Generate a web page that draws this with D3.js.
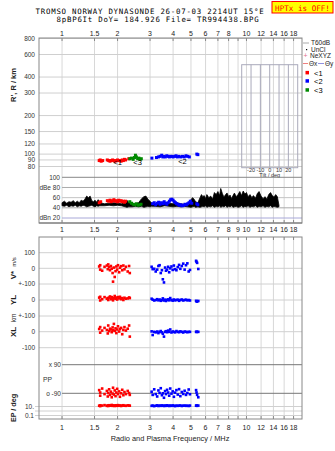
<!DOCTYPE html>
<html><head><meta charset="utf-8">
<script src="https://cdn.jsdelivr.net/npm/d3@7"></script>
<style>
body{margin:0;background:#fff}
svg{display:block}
text{font-family:"Liberation Sans",Arial,sans-serif;fill:#222}
.mono{font-family:"DejaVu Sans Mono","Liberation Mono",monospace}
</style>
</head><body>
<svg id="c" width="335" height="451"></svg>
<script>
// ---------------- DATA ----------------
const freqTicks = [1,1.5,2,3,4,5,6,7,8,10,12,14,16,18];
const freqTicksMid = [1,1.5,2,3,4,5,6,7,8,9,10,12,14,16,18];
const gridFreqs = [1,1.5,2,3,4,5,6,7,8,9,10,12,14,16,18];
const heightTicks = [80,90,100,120,150,200,300,400,600,800];
const ampTicks = [100,80,60,40,20];
const ampTickLabels = ["100","dBe 80","60","40","dBn 20"];
const tiltTicks = [-20,-10,0,10,20];

// virtual height traces (R' km)
const o1F = [1.59,1.61,1.63,1.66,1.76,1.79,1.82,1.85,1.88,1.91,1.94,1.97,2.00,2.03,2.06,2.09,2.12,2.15,2.18,2.21,2.30];
const o1H = [89,90,88,89,90,89,88,89,90,89,88,89,90,89,89,88,90,89,91,90,92];
const o3F = [2.33,2.38,2.43,2.47,2.50,2.53,2.57,2.61,2.65,2.69];
const o3H = [92,93,91,94,98,95,92,93,91,92];
const o2F = [3.07,3.25,3.33,3.40,3.47,3.52,3.58,3.63,3.70,3.76,3.82,3.88,3.94,4.00,4.08,4.15,4.22,4.30,4.40,4.50,4.60,4.70,4.80,4.90,5.38,5.45];
const o2H = [93,94,95,96,98,95,96,95,97,96,95,96,96,95,96,97,95,96,95,96,95,97,96,95,100,99];
const echoLabels = ["<1","<3","<2"];
const echoLabelF = [2.0,2.57,4.5];
const echoLabelH = [86,86,88.5];

// amplitude (dB) – black trace envelope
const ampF  = [1.00,1.03,1.06,1.09,1.12,1.15,1.18,1.21,1.24,1.27,1.30,1.33,1.36,1.39,1.42,1.45,1.48,1.51,1.54,1.57,1.60,1.70,1.80,1.90,2.00,2.10,2.20,2.25,2.30,2.40,2.50,2.60,2.70,2.78,2.85,2.92,3.00,3.05,3.20,3.40,3.60,3.80,4.00,4.20,4.40,4.60,4.80,5.00,5.10,5.20,5.30,5.45,5.60,5.70,5.80,5.90,6.00,6.10,6.25,6.40,6.55,6.70,6.85,7.00,7.15,7.25,7.40,7.55,7.70,7.85,8.00,8.15,8.30,8.45,8.60,8.80,9.00,9.20,9.40,9.60,9.80,10.0,10.2,10.45,10.7,10.9,11.2,11.45,11.7,12.0,12.3,12.6,12.9,13.2,13.5,13.8,14.1,14.4,14.7,15.0];
const ampLo = [44,43,45,42,44,43,45,42,44,43,45,44,42,43,44,45,43,42,44,43,44,44,45,44,45,44,42,41,42,42,43,42,43,41,42,43,42,43,43,42,44,43,42,43,42,43,42,41,42,43,41,42,41,42,43,42,44,41,43,42,44,41,43,42,44,41,43,42,44,41,43,42,44,41,42,43,41,42,44,41,43,42,44,41,43,42,44,41,43,42,44,41,43,42,44,41,43,42,41,42];
const ampHi = [50,53,49,52,51,54,50,53,50,55,53,57,63,60,63,54,52,55,51,56,50,48,49,50,49,48,52,55,50,47,48,50,58,62,63,57,53,50,48,49,50,49,48,50,48,47,49,56,60,57,52,50,60,66,62,64,58,66,60,63,57,70,66,72,64,78,68,61,66,69,62,65,58,64,69,62,66,72,64,73,67,70,62,66,60,64,59,68,72,63,58,62,57,66,70,64,61,66,62,45];

// amplitude of identified echoes
const ampRedF = [1.59,1.62,1.76,1.79,1.82,1.85,1.88,1.91,1.94,1.97,2.00,2.03,2.06,2.09,2.12,2.15,2.18,2.21];
const ampRedA = [50,52,54,53,55,52,54,56,53,54,52,55,53,54,52,53,51,53];
const ampGreenF = [2.33,2.38,2.43,2.48,2.53,2.58,2.63,2.68];
const ampGreenA = [52,49,47,46,48,45,46,47];
const ampBlueF = [3.10,3.16,3.22,3.28,3.34,3.40,3.46,3.52,3.58,3.64,3.70,3.76,3.82,3.88,3.94,4.00,4.06,4.12,4.18,4.25,4.32,4.40,4.48,4.56,4.64,4.72,4.80,4.88,4.96,5.05,5.38,5.45];
const ampBlueA = [48,50,46,49,51,47,50,48,52,49,47,50,53,56,57,55,52,50,48,47,45,46,44,45,47,46,48,50,53,49,48,46];

// lower panels: echo 1 (red)
const redF  = [1.59,1.61,1.61,1.65,1.70,1.75,1.77,1.78,1.80,1.82,1.84,1.86,1.88,1.89,1.91,1.93,1.95,1.97,1.99,2.01,2.04,2.06,2.09,2.12,2.15,2.18,2.22,2.27,2.31,2.33];
const redV  = [12,-8,20,-15,10,18,-5,25,8,-12,15,-2,-30,-85,5,-55,-18,12,-8,20,-25,4,14,-12,18,-6,10,-20,15,-30];
const redYL = [15,-3,20,5,18,8,12,0,15,22,5,18,10,-2,12,25,8,15,3,18,10,20,5,12,0,14,8,10,16,12];
const redXL = [18,-5,30,8,25,12,-10,40,5,20,15,-2,28,10,50,6,22,-8,15,35,2,18,25,-15,12,30,8,20,40,-30];
const redPP = [-70,-105,-85,-60,-95,-75,-110,-88,-65,-100,-80,-115,-92,-55,-98,-72,-108,-85,-62,-95,-78,-112,-90,-68,-102,-82,-95,-75,-88,-100];
const redEP = [15,18,12,16,20,14,17,13,19,15,16,22,14,17,15,13,18,16,14,20,15,17,13,16,19,15,14,18,16,15];

// lower panels: echo 2 (blue)
const blueF  = [3.06,3.10,3.16,3.22,3.28,3.33,3.38,3.43,3.48,3.52,3.57,3.62,3.66,3.71,3.76,3.81,3.86,3.92,3.98,4.04,4.10,4.17,4.24,4.31,4.38,4.46,4.54,4.62,4.70,4.78,4.86,4.94,5.33,5.36,5.40,5.48];
const blueV  = [10,-5,-3,-20,-8,15,20,-30,-12,-70,-90,5,-15,-8,10,-25,0,12,-10,18,-5,-12,8,22,-3,15,30,-8,20,32,-20,-10,48,42,35,-4];
const blueYL = [8,2,-3,0,5,-2,3,-5,0,10,-3,2,-6,0,4,-2,12,0,-4,3,-2,0,2,-5,0,3,-3,0,2,-2,0,-3,-5,-8,-10,-6];
const blueXL = [3,-20,0,-3,2,-8,0,5,-3,-12,-30,0,4,-2,8,0,15,-4,2,0,-3,5,0,-2,3,0,-4,2,0,-2,0,0,0,0,0,0];
const bluePP = [-80,-100,-65,-95,-110,-72,-88,-58,-102,-90,-118,-76,-95,-68,-85,-105,-60,-92,-78,-112,-86,-70,-98,-64,-108,-82,-94,-74,-100,-88,-66,-96,-70,-85,-100,-115];
const blueEP = [14,16,12,15,18,13,16,14,17,15,13,16,14,18,15,13,16,14,17,15,12,16,14,15,17,13,15,16,14,15,13,16,15,17,14,16];

const lowerTickVals = [252.7,268.3,284,300,316,331.7,347.7];

// ---------------- DRAWING ----------------
const RED="#ff0000", BLUE="#0000ff", GREEN="#008a00";
const svg = d3.select("#c");
const X0=39, X1=302;
const x = d3.scaleLog().domain([0.75,20]).range([X0,X1]);
const yR = d3.scaleLog().domain([80,800]).range([166.5,38.5]);
const yA = d3.scaleLinear().domain([20,100]).range([218,177.3]);
const yV = d3.scaleLinear().domain([-100,100]).range([284,252.7]);
const yYL = d3.scaleLinear().domain([-100,100]).range([316,284]);
const yXL = d3.scaleLinear().domain([-100,100]).range([347.7,316]);
const yPP = d3.scaleLinear().domain([-90,90]).range([393.3,364.7]);
const yEP = d3.scaleLog().domain([0.1,10]).range([415.5,406.5]);
const tilt = d3.scaleLinear().domain([-30,30]).range([241.7,297.7]);
const fmt = d => String(d);

const T1=38, B1=223, T2=237, B2=419;

// header
svg.append("text").attr("class","mono").attr("x",150).attr("y",14).attr("text-anchor","middle")
  .attr("font-size",7.4).attr("letter-spacing",0.75).style("fill","#000").text("TROMSO NORWAY   DYNASONDE 26-07-03 2214UT 15°E");
svg.append("text").attr("class","mono").attr("x",158).attr("y",22.3).attr("text-anchor","middle")
  .attr("font-size",7.4).attr("letter-spacing",0.75).style("fill","#000").text("8pBP6It DoY= 184.926 File= TR994438.BPG");
svg.append("rect").attr("x",272).attr("y",1.5).attr("width",61).attr("height",11.5)
  .attr("fill","#ffff00").attr("stroke","#ff0000").attr("stroke-width",1);
svg.append("text").attr("class","mono").attr("x",302.5).attr("y",10.5).attr("text-anchor","middle")
  .attr("font-size",7.6).style("fill","#ff0000").text("HPTx is OFF!");

// vertical grid lines
const g = svg.append("g");
[[T1,B1],[T2,B2]].forEach(([a,b])=>{
  g.selectAll(null).data(gridFreqs).enter().append("line")
    .attr("x1",d=>x(d)).attr("x2",d=>x(d)).attr("y1",a).attr("y2",b)
    .attr("stroke","#d8d8d8").attr("stroke-width",1);
});

// top panel horizontal grid
g.selectAll(null).data(heightTicks).enter().append("line")
  .attr("x1",X0).attr("x2",X1).attr("y1",d=>yR(d)).attr("y2",d=>yR(d))
  .attr("stroke","#cfcfcf");
svg.selectAll(null).data(heightTicks).enter().append("text")
  .attr("x",35).attr("y",d=>yR(d)+2.3).attr("text-anchor","end").attr("font-size",6.5)
  .style("fill","#333").text(fmt);

// tilt box
svg.append("rect").attr("x",tilt(-30)).attr("y",64.7).attr("width",tilt(30)-tilt(-30)).attr("height",103)
  .attr("fill","none").attr("stroke","#aab").attr("stroke-width",1);
svg.selectAll(null).data(tiltTicks).enter().append("line")
  .attr("x1",d=>tilt(d)).attr("x2",d=>tilt(d)).attr("y1",64.7).attr("y2",167.7)
  .attr("stroke","#aab");
svg.selectAll(null).data(tiltTicks).enter().append("text")
  .attr("x",d=>tilt(d)).attr("y",172).attr("text-anchor","middle").attr("font-size",5.5)
  .style("fill","#333").text(fmt);
svg.append("text").attr("x",tilt(0)).attr("y",177).attr("text-anchor","middle").attr("font-size",5.5)
  .style("fill","#333").text("Tilt / deg");

// amplitude panel lines
const ampColors = ["#888","#aaa","#c4c4c4","#aaa","#a8a8d8"];
svg.selectAll(null).data(ampTicks).enter().append("line")
  .attr("x1",x(1)).attr("x2",X1).attr("y1",d=>yA(d)).attr("y2",d=>yA(d))
  .attr("stroke",(d,i)=>ampColors[i]);
svg.selectAll(null).data(ampTicks).enter().append("text")
  .attr("x",60).attr("y",d=>yA(d)+2.3).attr("text-anchor","end").attr("font-size",6.5)
  .style("fill","#333").text((d,i)=>ampTickLabels[i]);

// lower panel horizontal lines
svg.selectAll(null).data(lowerTickVals).enter().append("line")
  .attr("x1",X0).attr("x2",X1).attr("y1",d=>d).attr("y2",d=>d).attr("stroke","#d0d0d0");
svg.selectAll(null).data([90,-90]).enter().append("line")
  .attr("x1",x(1)).attr("x2",X1).attr("y1",d=>yPP(d)).attr("y2",d=>yPP(d)).attr("stroke","#777");
svg.selectAll(null).data([10,1,0.1]).enter().append("line")
  .attr("x1",X0-4).attr("x2",X1).attr("y1",d=>yEP(d)).attr("y2",d=>yEP(d)).attr("stroke","#d0d0d0");

// lower tick labels
const lowLab = [[yV(100),"100"],[yV(0),"0"],[yV(-100),"+-100"],[yYL(0),"0"],[yYL(-100),"+-100"],[yXL(0),"0"],[yXL(-100),"-100"]];
svg.selectAll(null).data(lowLab).enter().append("text")
  .attr("x",35).attr("y",d=>d[0]+2.3).attr("text-anchor","end").attr("font-size",6.5)
  .style("fill","#333").text(d=>d[1]);
svg.append("text").attr("x",61).attr("y",yPP(90)+2.3).attr("text-anchor","end").attr("font-size",6.5).style("fill","#333").text("x  90");
svg.append("text").attr("x",61).attr("y",yPP(-90)+2.3).attr("text-anchor","end").attr("font-size",6.5).style("fill","#333").text("o -90");
svg.append("text").attr("x",43).attr("y",yPP(0)+2.5).attr("font-size",6.8).style("fill","#333").text("PP");
svg.append("text").attr("x",34).attr("y",yEP(10)+2.3).attr("text-anchor","end").attr("font-size",6.5).style("fill","#333").text("10.");
svg.append("text").attr("x",34).attr("y",yEP(0.1)+2.3).attr("text-anchor","end").attr("font-size",6.5).style("fill","#333").text("0.1");

// frames
[[T1,B1],[T2,B2]].forEach(([a,b])=>{
  svg.append("rect").attr("x",X0).attr("y",a).attr("width",X1-X0).attr("height",b-a)
    .attr("fill","none").attr("stroke","#888").attr("stroke-width",1);
});
svg.append("line").attr("x1",X0).attr("x2",X1).attr("y1",B1).attr("y2",B1).attr("stroke","#777");

// tick marks
[[T1,1],[T2,1],[B2,-1],[B1,-1]].forEach(([yy,dir])=>{
  svg.selectAll(null).data(freqTicksMid).enter().append("line")
    .attr("x1",d=>x(d)).attr("x2",d=>x(d)).attr("y1",yy).attr("y2",yy+3*dir)
    .attr("stroke","#888");
});

// frequency labels
[[35.5,freqTicks],[231.5,freqTicksMid],[429.5,freqTicks]].forEach(([yy,ticks])=>{
  svg.selectAll(null).data(ticks).enter().append("text")
    .attr("x",d=>x(d)).attr("y",yy).attr("text-anchor","middle").attr("font-size",7)
    .style("fill","#222").text(fmt);
});
svg.append("text").attr("x",170).attr("y",441).attr("text-anchor","middle").attr("font-size",7.4)
  .style("fill","#222").text("Radio and Plasma Frequency / MHz");

// axis titles
function vtext(t,cx,cy,size,weight){
  svg.append("text").attr("transform",`translate(${cx},${cy}) rotate(-90)`).attr("text-anchor","middle")
    .attr("font-size",size).attr("font-weight",weight||"bold").style("fill","#222").text(t);
}
vtext("R', R / km",16,85,7.5);
vtext("V*",16,275,8);
vtext("m/s",16,262,6,"normal");
vtext("YL",16,300,8);
vtext("km",16,318,6.5,"normal");
vtext("XL",16,332,8);
vtext("EP / deg",16,408,7.2);

// legend
const L = svg.append("g");
L.append("line").attr("x1",303).attr("x2",309).attr("y1",43).attr("y2",43).attr("stroke","#aaa");
L.append("text").attr("x",311).attr("y",45.3).attr("font-size",6.5).text("T60dB");
L.append("rect").attr("x",306).attr("y",49).attr("width",1.2).attr("height",1.2).attr("fill","#000");
L.append("text").attr("x",311).attr("y",52).attr("font-size",6.5).text("UnCl");
L.append("text").attr("x",303.5).attr("y",58.3).attr("font-size",7).style("fill","#e07090").text("+");
L.append("text").attr("x",310).attr("y",58.3).attr("font-size",6.5).text("NeXYZ");
L.append("line").attr("x1",303).attr("x2",308).attr("y1",63.5).attr("y2",63.5).attr("stroke","#f08080");
L.append("text").attr("x",309).attr("y",65.8).attr("font-size",6.5).text("Θx");
L.append("line").attr("x1",318).attr("x2",324).attr("y1",63.5).attr("y2",63.5).attr("stroke","#9090e0");
L.append("text").attr("x",325).attr("y",65.8).attr("font-size",6.5).text("Θy");
[[RED,"<1",72.7],[BLUE,"<2",81],[GREEN,"<3",90]].forEach(([c,t,yy])=>{
  L.append("rect").attr("x",305.5).attr("y",yy-1.8).attr("width",3.5).attr("height",3.5).attr("fill",c);
  L.append("text").attr("x",314).attr("y",yy+2.8).attr("font-size",7.5).style("fill","#000").text(t);
});

// black amplitude trace
const ampData = ampF.map((f,i)=>({f,lo:ampLo[i],hi:ampHi[i]}));
svg.append("path").datum(ampData)
  .attr("d",d3.area().x(d=>x(d.f)).y0(d=>yA(d.lo)).y1(d=>yA(d.hi)))
  .attr("fill","#000").attr("stroke","#000").attr("stroke-width",0.8);

// points helper
function pts(fs,vs,sc,color,size){
  svg.append("g").selectAll("rect").data(fs.map((f,i)=>[f,vs[i]])).enter().append("rect")
    .attr("x",d=>x(d[0])-size/2).attr("y",d=>sc(d[1])-size/2)
    .attr("width",size).attr("height",size).attr("fill",color);
}
// amplitude echoes
pts(ampRedF,ampRedA,yA,RED,3);
pts(ampGreenF,ampGreenA,yA,GREEN,3);
pts(ampBlueF,ampBlueA,yA,BLUE,3);
// height traces
pts(o1F,o1H,yR,RED,3);
pts(o3F,o3H,yR,GREEN,3);
pts(o2F,o2H,yR,BLUE,3);
svg.selectAll(null).data(echoLabels).enter().append("text")
  .attr("x",(d,i)=>x(echoLabelF[i])).attr("y",(d,i)=>yR(echoLabelH[i])+3)
  .attr("text-anchor","middle").attr("font-size",7.5).style("fill","#000").text(d=>d);
// lower panels
const S=2.6;
pts(redF,redV,yV,RED,S); pts(blueF,blueV,yV,BLUE,S);
pts(redF,redYL,yYL,RED,S); pts(blueF,blueYL,yYL,BLUE,S);
pts(redF,redXL,yXL,RED,S); pts(blueF,blueXL,yXL,BLUE,S);
pts(redF,redPP,yPP,RED,S); pts(blueF,bluePP,yPP,BLUE,S);
pts(redF,redEP,yEP,RED,S); pts(blueF,blueEP,yEP,BLUE,S);
</script>
</body></html>
